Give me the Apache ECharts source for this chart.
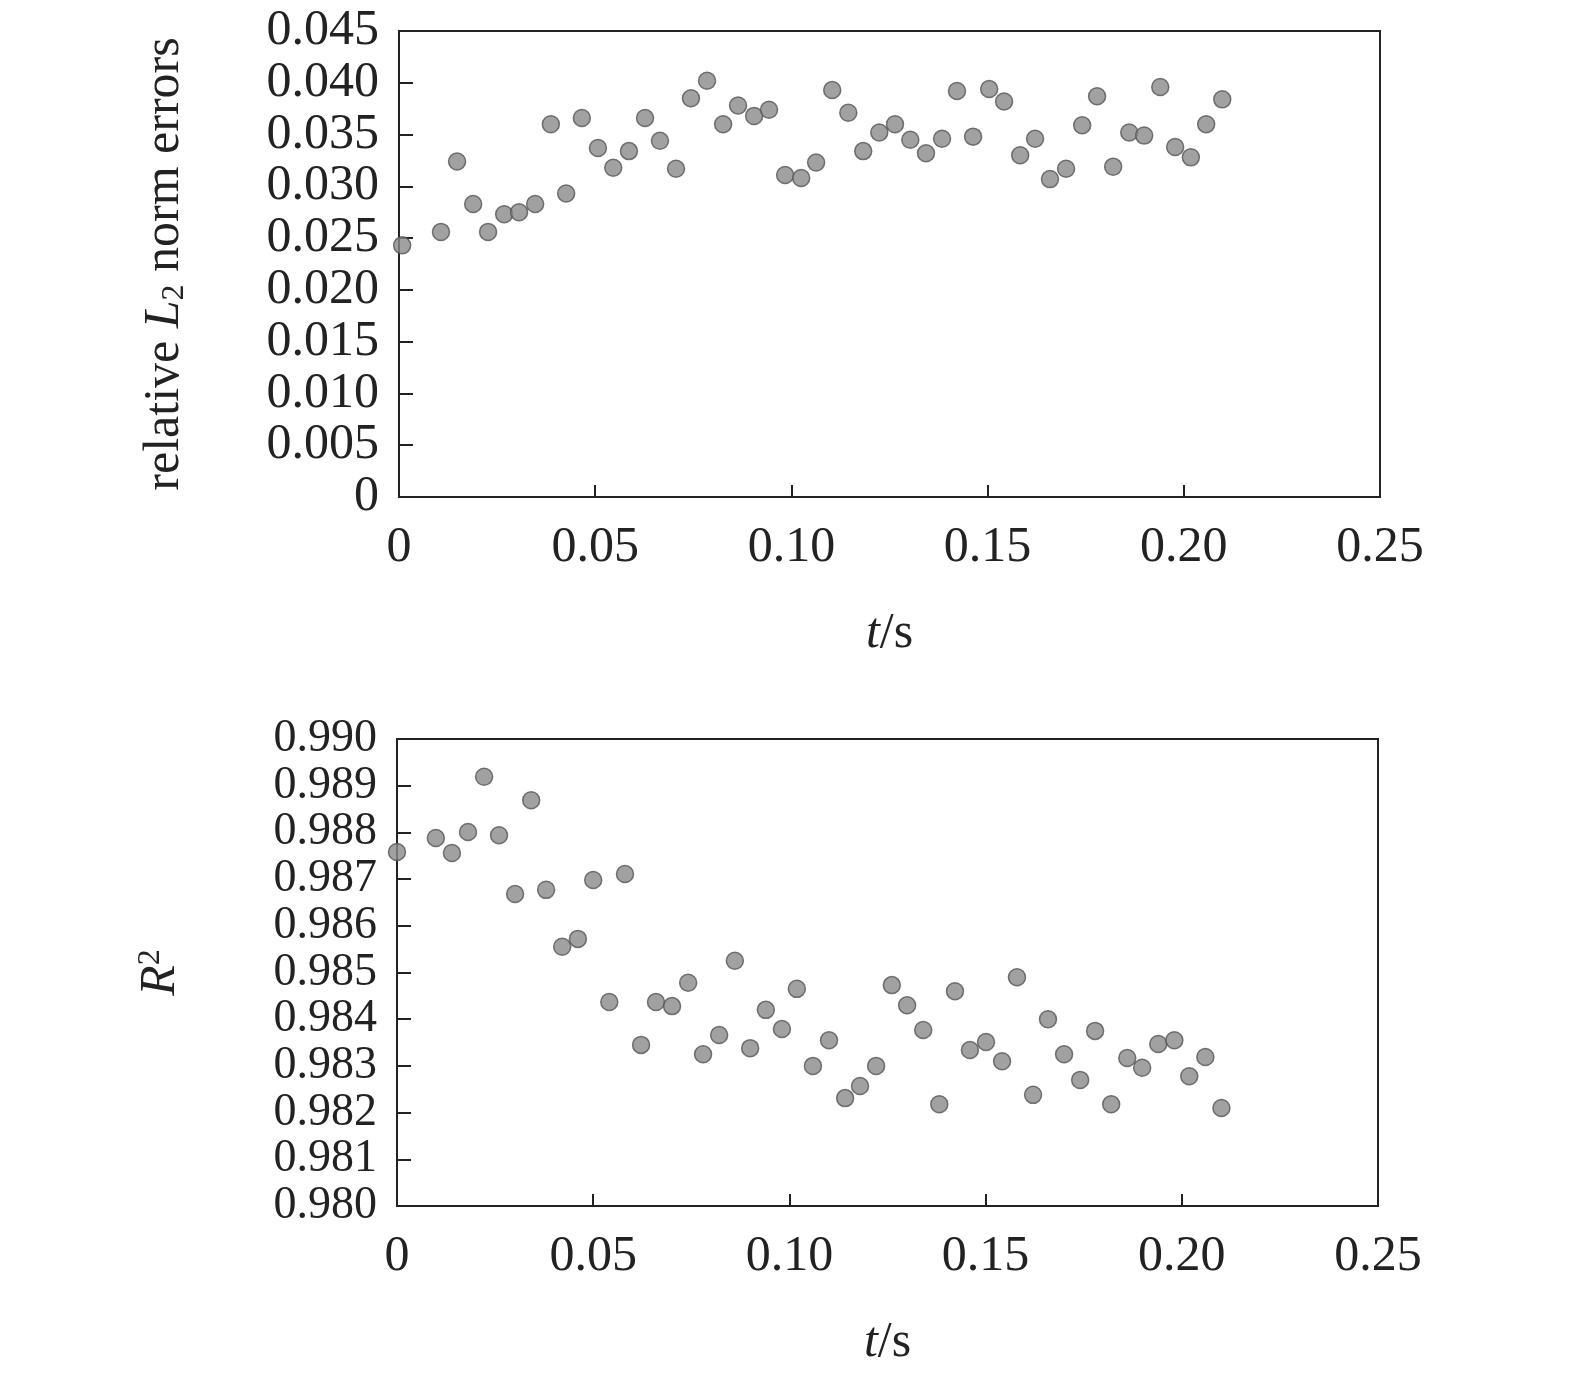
<!DOCTYPE html><html><head><meta charset="utf-8"><script src="https://cdn.jsdelivr.net/npm/echarts@6/dist/echarts.min.js"></script>
<style>html,body{margin:0;background:#fff}#c{width:1575px;height:1381px}</style></head><body><div id="c"></div><script>
const tTop=[0.0008,0.0107,0.0148,0.0189,0.0227,0.0268,0.0306,0.0347,0.0387,0.0426,0.0466,0.0507,0.0546,0.0586,0.0627,0.0665,0.0706,0.0744,0.0785,0.0826,0.0864,0.0905,0.0943,0.0984,0.1025,0.1063,0.1104,0.1145,0.1183,0.1224,0.1264,0.1303,0.1343,0.1384,0.1422,0.1463,0.1504,0.1542,0.1583,0.1621,0.1659,0.1700,0.1741,0.1779,0.1820,0.1861,0.1899,0.1940,0.1978,0.2018,0.2057,0.2098];
const l2Err=[0.0243,0.0256,0.0324,0.0283,0.0256,0.0273,0.0275,0.0283,0.0360,0.0293,0.0366,0.0337,0.0318,0.0334,0.0366,0.0344,0.0317,0.0385,0.0402,0.0360,0.0378,0.0368,0.0374,0.0311,0.0308,0.0323,0.0393,0.0371,0.0334,0.0352,0.0360,0.0345,0.0332,0.0346,0.0392,0.0348,0.0394,0.0382,0.0330,0.0346,0.0307,0.0317,0.0359,0.0387,0.0319,0.0352,0.0349,0.0396,0.0338,0.0328,0.0360,0.0384];
const tBot=[0.0000,0.0099,0.0140,0.0181,0.0222,0.0260,0.0301,0.0342,0.0380,0.0421,0.0461,0.0500,0.0541,0.0581,0.0622,0.0660,0.0701,0.0742,0.0780,0.0821,0.0861,0.0900,0.0940,0.0981,0.1019,0.1060,0.1101,0.1142,0.1180,0.1221,0.1261,0.1300,0.1341,0.1382,0.1422,0.1460,0.1501,0.1542,0.1580,0.1621,0.1659,0.1700,0.1741,0.1779,0.1820,0.1861,0.1899,0.1940,0.1981,0.2019,0.2060,0.2101];
const r2=[0.98758,0.98788,0.98756,0.98801,0.98919,0.98794,0.98668,0.98869,0.98677,0.98555,0.98572,0.98698,0.98437,0.98711,0.98345,0.98437,0.98428,0.98478,0.98325,0.98366,0.98525,0.98338,0.98420,0.98379,0.98465,0.98300,0.98355,0.98231,0.98257,0.98300,0.98473,0.98430,0.98377,0.98218,0.98460,0.98334,0.98351,0.98310,0.98490,0.98238,0.98400,0.98325,0.98270,0.98375,0.98218,0.98317,0.98296,0.98347,0.98355,0.98278,0.98319,0.98210];
const F='Liberation Serif',C='#222',FS=50;
const xTicks={0:'0',0.05:'0.05',0.1:'0.10',0.15:'0.15',0.2:'0.20',0.25:'0.25'};
function xAx(g){return {gridIndex:g,type:'value',min:0,max:0.25,interval:0.05,
 name:'{i|t}/s',nameLocation:'middle',nameGap:112,nameTextStyle:{fontFamily:F,fontSize:FS,color:C,rich:{i:{fontFamily:F,fontSize:FS,fontStyle:'italic',color:C}}},
 axisLine:{lineStyle:{color:C,width:2}},axisTick:{inside:true,length:12,lineStyle:{color:C,width:2}},
 axisLabel:{fontFamily:F,fontSize:FS,color:C,margin:26,showMinLabel:true,showMaxLabel:true,formatter:v=>xTicks[+v.toFixed(2)]},splitLine:{show:false}};}
const pt={symbolSize:17,itemStyle:{color:'#8a8a8a',borderColor:'#555',borderWidth:1.5}};
const opt={animation:false,
grid:[{left:399,top:31,width:981,height:466,show:true,borderColor:C,borderWidth:2,backgroundColor:'transparent'},
      {left:397,top:739,width:981,height:467,show:true,borderColor:C,borderWidth:2,backgroundColor:'transparent'}],
xAxis:[xAx(0),xAx(1)],
yAxis:[{gridIndex:0,type:'value',min:0,max:0.045,interval:0.005,
 name:'relative {i|L}{s|2} norm errors',nameLocation:'middle',nameGap:208,nameRotate:90,
 nameTextStyle:{fontFamily:F,fontSize:FS,color:C,rich:{i:{fontFamily:F,fontSize:FS,fontStyle:'italic',color:C},s:{fontFamily:F,fontSize:32,color:C,padding:[20,0,0,0]}}},
 axisLine:{lineStyle:{color:C,width:2}},axisTick:{inside:true,length:14,lineStyle:{color:C,width:2}},
 axisLabel:{fontFamily:F,fontSize:FS,color:C,margin:20,showMinLabel:true,showMaxLabel:true,formatter:v=>v===0?'0':v.toFixed(3)},splitLine:{show:false}},
 {gridIndex:1,type:'value',min:0.98,max:0.99,interval:0.001,
 name:'{i|R}{s|2}',nameLocation:'middle',nameGap:210,nameRotate:90,
 nameTextStyle:{fontFamily:F,fontSize:FS,color:C,rich:{i:{fontFamily:F,fontSize:FS,fontStyle:'italic',color:C},s:{fontFamily:F,fontSize:32,color:C,padding:[0,0,20,0]}}},
 axisLine:{lineStyle:{color:C,width:2}},axisTick:{inside:true,length:14,lineStyle:{color:C,width:2}},
 axisLabel:{fontFamily:F,fontSize:46,color:C,margin:20,showMinLabel:true,showMaxLabel:true,formatter:v=>v.toFixed(3)},splitLine:{show:false}}],
series:[Object.assign({type:'scatter',xAxisIndex:0,yAxisIndex:0,data:tTop.map((t,i)=>[t,l2Err[i]])},pt),
        Object.assign({type:'scatter',xAxisIndex:1,yAxisIndex:1,data:tBot.map((t,i)=>[t,r2[i]])},pt)]};
echarts.init(document.getElementById('c')).setOption(opt);
</script></body></html>
